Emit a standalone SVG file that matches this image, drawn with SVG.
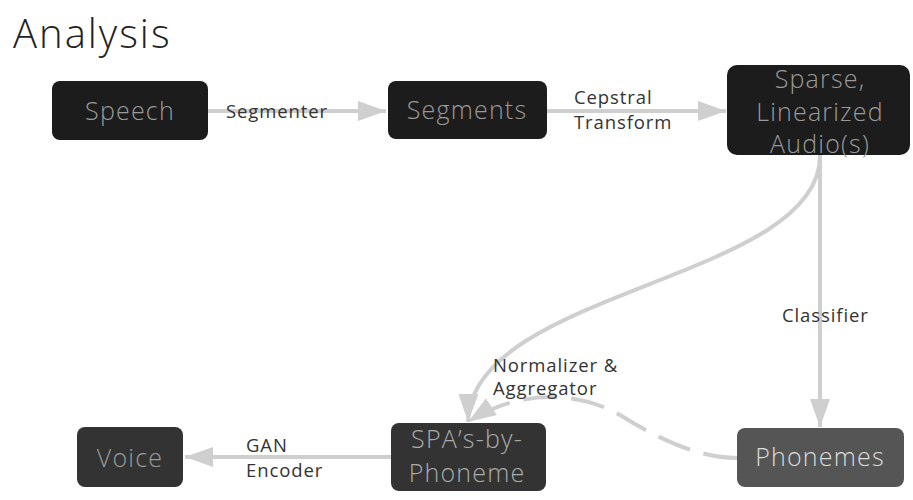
<svg xmlns="http://www.w3.org/2000/svg" width="913" height="500" viewBox="0 0 913 500">
<style>
text{font-family:"Open Sans","Liberation Sans",sans-serif;}
.title{font-size:40px;font-weight:300;fill:#222;letter-spacing:2px;}
.nt{font-size:25px;font-weight:300;text-anchor:middle;letter-spacing:1.2px;}
.lbl{font-size:18.5px;fill:#333;letter-spacing:0.9px;}
.edge{fill:none;stroke:#cfcfcf;stroke-width:4;}
.dash{stroke-dasharray:34,14;}
</style>
<defs>
<marker id="ah" markerUnits="userSpaceOnUse" markerWidth="30" markerHeight="22" refX="28" refY="10" orient="auto">
<path d="M0,0 L28,10 L0,20 z" fill="#cfcfcf"/>
</marker>
</defs>
<rect width="913" height="500" fill="#fff"/>
<text class="title" x="13" y="48">Analysis</text>
<g id="connectors">
<path class="edge" d="M208,111 L386,111" marker-end="url(#ah)"/>
<path class="edge" d="M547,111 L726,111" marker-end="url(#ah)"/>
<path class="edge" d="M820,155 L820,427" marker-end="url(#ah)"/>
<path class="edge" d="M820,156 C820,280 470,290 468,422" marker-end="url(#ah)"/>
<path class="edge dash" d="M737,458 C700,458 660,440 620,415 C580,392 520,388 468,422" marker-end="url(#ah)"/>
<path class="edge" d="M391,457 L185,457" marker-end="url(#ah)"/>
<text class="lbl" x="226" y="118">Segmenter</text>
<text class="lbl" x="574" y="104">Cepstral</text>
<text class="lbl" x="574" y="129">Transform</text>
<text class="lbl" x="782" y="322">Classifier</text>
<text class="lbl" x="493" y="372">Normalizer &amp;</text>
<text class="lbl" x="493" y="395">Aggregator</text>
<text class="lbl" x="246" y="452">GAN</text>
<text class="lbl" x="246" y="477">Encoder</text>
</g>
<g id="speech">
<rect x="52" y="81" width="156" height="59" rx="8" fill="#1c1c1c"/>
<text class="nt" x="130" y="120" fill="#9a9a9a">Speech</text>
</g>
<g id="segments">
<rect x="388" y="81" width="159" height="58" rx="8" fill="#1c1c1c"/>
<text class="nt" x="467" y="119" fill="#9a9a9a">Segments</text>
</g>
<g id="sparse">
<rect x="727" y="65" width="183" height="90" rx="10" fill="#1c1c1c"/>
<text class="nt" x="820" y="88" fill="#9a9a9a">Sparse,</text>
<text class="nt" x="820" y="121" fill="#9a9a9a">Linearized</text>
<text class="nt" x="820" y="153" fill="#9a9a9a">Audio(s)</text>
</g>
<g id="phonemes">
<rect x="737" y="428" width="167" height="59" rx="8" fill="#555"/>
<text class="nt" x="820" y="466" fill="#dcdcdc">Phonemes</text>
</g>
<g id="spa">
<rect x="391" y="423" width="155" height="68" rx="8" fill="#333"/>
<text class="nt" x="467" y="448" fill="#ababab">SPA’s-by-</text>
<text class="nt" x="467" y="482" fill="#ababab">Phoneme</text>
</g>
<g id="voice">
<rect x="77" y="427" width="106" height="60" rx="8" fill="#333"/>
<text class="nt" x="130" y="467" fill="#9a9a9a">Voice</text>
</g>
</svg>
